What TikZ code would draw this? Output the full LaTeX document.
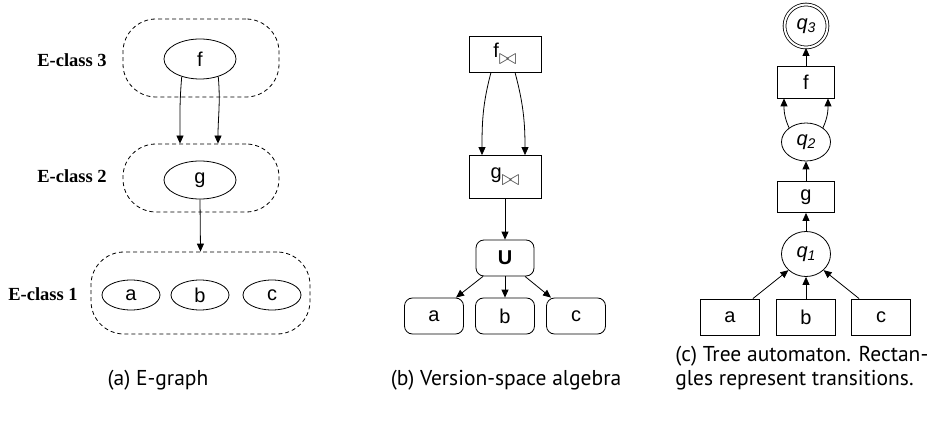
\documentclass[tikz,border=0pt]{standalone}
\usepackage{fontspec}
\setmainfont{Liberation Serif}
\setsansfont{Liberation Sans}
\newfontfamily\capfont{PT Sans}
\usetikzlibrary{arrows.meta,shapes.geometric}

\newcommand{\qstate}[1]{\textit{q}\raisebox{-0.35ex}{\fontsize{14}{14}\selectfont\itshape #1}}
\newcommand{\vsa}[1]{#1\raisebox{-0.65ex}{\color{black!70}\scalebox{1.05}{$\bowtie$}}}

\begin{document}
\begin{tikzpicture}[x=1pt,y=1pt,line width=0.8pt,
    every node/.style={font=\sffamily\fontsize{20}{22}\selectfont,inner sep=0pt},
    tip/.style={-{Triangle[length=8pt,width=7pt]}},
    eclass/.style={draw,dash pattern=on 4pt off 3pt,rounded corners=33pt},
    eterm/.style={draw,ellipse},
    classlabel/.style={font=\rmfamily\bfseries\fontsize{18.5}{20}\selectfont},
    vbox/.style={draw,rectangle,minimum width=72pt},
    vleaf/.style={draw,rectangle,rounded corners=8pt,minimum width=59pt,minimum height=36pt},
    tbox/.style={draw,rectangle,minimum width=57pt},
    tstate/.style={draw,ellipse,minimum width=49pt},
    caption/.style={font=\capfont\fontsize{21.5}{24}\selectfont,anchor=base}]
  \useasboundingbox (0,0) rectangle (948,421);

  % (a) E-graph
  \node[eclass,minimum width=156pt,minimum height=78pt] (ec3) at (201,363) {};
  \node[eclass,minimum width=156pt,minimum height=68pt] (ec2) at (201,243) {};
  \node[eclass,minimum width=219pt,minimum height=82pt] (ec1) at (200.5,128) {};
  \node[classlabel] (l3) at (72,361) {E-class 3};
  \node[classlabel] (l2) at (72,245) {E-class 2};
  \node[classlabel] (l1) at (43,127) {E-class 1};
  \node[eterm,minimum width=72pt,minimum height=40pt] (f) at (200,362) {f};
  \node[eterm,minimum width=72pt,minimum height=38pt] (g) at (200,241) {g};
  \node[eterm,minimum width=58pt,minimum height=30pt] (a) at (131,126) {a};
  \node[eterm,minimum width=58pt,minimum height=30pt] (b) at (200,126) {b};
  \node[eterm,minimum width=58pt,minimum height=30pt] (c) at (272,126) {c};
  \draw[tip] (f.224) to[out=-95,in=90] ([xshift=-21pt]ec2.north);
  \draw[tip] (f.-44) to[out=-85,in=90] ([xshift=17pt]ec2.north);
  \draw[tip] (g.south) -- (ec1.north);

  % (b) Version-space algebra
  \node[vbox,minimum height=36pt] (fb) at (505,367) {\vsa{f}};
  \node[vbox,minimum height=43pt] (gb) at (505,244) {\vsa{g}};
  \node[vleaf,minimum width=58pt] (ub) at (505,163) {\bfseries U};
  \node[vleaf] (ab) at (434,105) {a};
  \node[vleaf] (bb) at (505,105) {b};
  \node[vleaf] (cb) at (576,105) {c};
  \draw[tip] ([xshift=-14pt]fb.south) to[out=-105,in=90] ([xshift=-23pt]gb.north);
  \draw[tip] ([xshift=10pt]fb.south) to[out=-75,in=90] ([xshift=20pt]gb.north);
  \draw[tip] (gb.south) -- (ub.north);
  \draw[tip] ([xshift=-22pt]ub.south) -- ([xshift=22pt]ab.north);
  \draw[tip] (ub.south) -- (bb.north);
  \draw[tip] ([xshift=20pt]ub.south) -- ([xshift=-25pt]cb.north);

  % (c) Tree automaton
  \node[draw,circle,double,double distance=2pt,minimum size=43pt] (q3) at (806,395) {\qstate{3}};
  \node[tbox,minimum height=32pt] (fc) at (806,339) {f};
  \node[tstate,minimum height=38pt] (q2) at (806,279) {\qstate{2}};
  \node[tbox,minimum height=31pt] (gc) at (806,224) {g};
  \node[tstate,minimum height=45pt] (q1) at (806,167) {\qstate{1}};
  \node[tbox,minimum width=59pt,minimum height=36pt] (ac) at (730,104) {a};
  \node[tbox,minimum width=59pt,minimum height=36pt] (bc) at (806,104) {b};
  \node[tbox,minimum width=59pt,minimum height=36pt] (cc) at (881,104) {c};
  \draw[tip] (fc.north) -- (q3.south);
  \draw[tip] (q2.140) to[out=115,in=-90] ([xshift=-22pt]fc.south);
  \draw[tip] (q2.40) to[out=65,in=-90] ([xshift=22pt]fc.south);
  \draw[tip] (gc.north) -- (q2.south);
  \draw[tip] (q1.north) -- (gc.south);
  \draw[tip] ([xshift=-7pt]ac.north east) -- (q1.south west);
  \draw[tip] (bc.north) -- (q1.south);
  \draw[tip] ([xshift=8pt]cc.north west) -- (q1.south east);

  % captions
  \node[caption] (capa) at (158,36) {(a) E-graph};
  \node[caption] (capb) at (506,36) {(b) Version-space algebra};
  \node[caption,anchor=base west,align=left] (capc) at (675,36)
    {(c) Tree automaton. Rectan-\\gles represent transitions.};
\end{tikzpicture}
\end{document}
